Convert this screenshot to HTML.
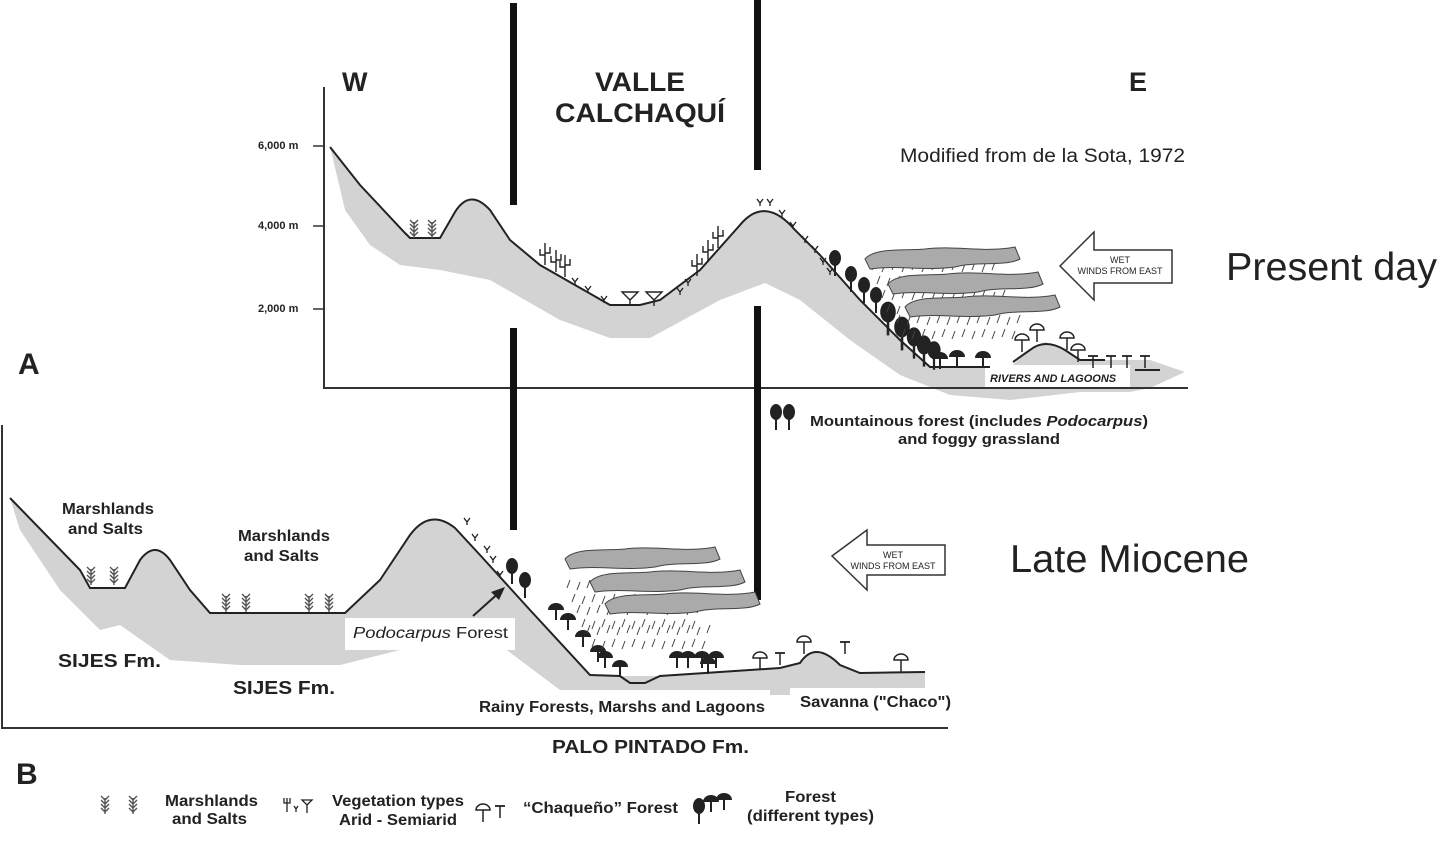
<!DOCTYPE html>
<html><head><meta charset="utf-8"><style>
html,body{margin:0;padding:0;background:#fff;}
svg{display:block;}
text{font-family:"Liberation Sans",Arial,sans-serif;fill:#222;}
.b{font-weight:bold;}
</style></head><body>
<svg width="1439" height="860" viewBox="0 0 1439 860" xmlns="http://www.w3.org/2000/svg">
<defs>
<g id="marsh"><path d="M0,0 l4,4 l4,-4 M0,4 l4,4 l4,-4 M0,8 l4,4 l4,-4 M0,12 l4,4 l4,-4 M4,2 v16" stroke="#555" stroke-width="1.4" fill="none"/></g>
<g id="tree"><ellipse cx="0" cy="0" rx="6" ry="8" fill="#222"/><line x1="0" y1="0" x2="0" y2="18" stroke="#222" stroke-width="2"/></g>
<g id="mush"><path d="M-7,0 a7,6 0 0 1 14,0 z" fill="#fff" stroke="#222" stroke-width="1.5"/><line x1="0" y1="0" x2="0" y2="12" stroke="#222" stroke-width="1.5"/></g>
<g id="tee"><line x1="-5" y1="0" x2="5" y2="0" stroke="#222" stroke-width="1.8"/><line x1="0" y1="0" x2="0" y2="12" stroke="#222" stroke-width="1.5"/></g>
<g id="dark"><path d="M-8,2 a8,7 0 0 1 16,0 z" fill="#222"/><line x1="0" y1="0" x2="0" y2="12" stroke="#222" stroke-width="2"/></g>
<g id="y"><path d="M-3,-4 L0,0 L3,-4 M0,0 v3" stroke="#222" stroke-width="1.3" fill="none"/></g>
<g id="cactus"><path d="M0,0 v-22 M-5,-16 v6 h5 M5,-18 v6 h-5" stroke="#222" stroke-width="1.4" fill="none"/></g>
<g id="cloud"><path d="M0,14 C10,2 40,6 60,4 C90,0 120,8 150,2 L155,14 C140,22 110,16 90,22 C60,26 30,20 5,24 Z" fill="#aaa" stroke="#444" stroke-width="1"/></g>
<g id="rain"><path d="M0,0 l-3,8 M10,2 l-3,8 M20,0 l-3,8 M30,2 l-3,8 M40,0 l-3,8 M50,2 l-3,8 M60,0 l-3,8 M70,2 l-3,8 M80,0 l-3,8 M90,2 l-3,8 M100,0 l-3,8 M110,2 l-3,8 M120,0 l-3,8 M5,14 l-3,8 M15,16 l-3,8 M25,14 l-3,8 M35,16 l-3,8 M45,14 l-3,8 M55,16 l-3,8 M65,14 l-3,8 M75,16 l-3,8 M85,14 l-3,8 M95,16 l-3,8 M105,14 l-3,8 M115,16 l-3,8" stroke="#444" stroke-width="1"/></g>
</defs>

<!-- ===== Top section ===== -->
<path d="M330,147 L360,185 L405,233 L410,238 L440,238 L455,212 Q470,188 490,210 L510,240 L540,265 L575,285 L610,305 L640,305 L660,300 L700,270 L740,225 Q765,195 795,230 L820,255 L860,300 L900,340 L930,367 L990,367 L1010,367 L1030,350 L1045,342 L1065,350 L1080,360 L1150,360 L1185,372 L1150,388 L1130,392 L1080,392 L1010,400 L950,395 L900,375 L850,340 L800,300 L765,283 L720,300 L650,338 L610,338 L560,320 L490,280 L440,270 L400,265 L370,245 L345,210 L338,180 Z" fill="#d3d3d3"/>
<rect x="985" y="365" width="145" height="22" fill="#fff"/>
<path d="M330,147 L360,185 L405,233 L410,238 L440,238 L455,212 Q470,188 490,210 L510,240 L540,265 L575,285 L610,305 L640,305 L660,300 L700,270 L740,225 Q765,195 795,230 L820,255 L860,300 L900,340 L930,367 L990,367" fill="none" stroke="#222" stroke-width="2"/>
<path d="M1013,362 L1030,350 Q1045,338 1065,350 L1080,360 L1105,360" fill="none" stroke="#222" stroke-width="2"/>
<path d="M1135,370 L1160,370" stroke="#222" stroke-width="2"/>

<line x1="324" y1="87" x2="324" y2="388" stroke="#333" stroke-width="2"/>
<line x1="323" y1="388" x2="1188" y2="388" stroke="#333" stroke-width="2"/>
<line x1="313" y1="146" x2="324" y2="146" stroke="#333" stroke-width="1.5"/>
<line x1="313" y1="226" x2="324" y2="226" stroke="#333" stroke-width="1.5"/>
<line x1="313" y1="309" x2="324" y2="309" stroke="#333" stroke-width="1.5"/>
<text x="258" y="149" font-size="11" class="b">6,000 m</text>
<text x="258" y="229" font-size="11" class="b">4,000 m</text>
<text x="258" y="312" font-size="11" class="b">2,000 m</text>

<rect x="510" y="3" width="7" height="202" fill="#111"/>
<rect x="510" y="328" width="7" height="202" fill="#111"/>
<rect x="754" y="0" width="7" height="170" fill="#111"/>
<rect x="754" y="306" width="7" height="294" fill="#111"/>

<text x="342" y="91" font-size="27" class="b">W</text>
<text x="595" y="91" font-size="27" class="b" textLength="90" lengthAdjust="spacingAndGlyphs">VALLE</text>
<text x="555" y="122" font-size="27" class="b" textLength="170" lengthAdjust="spacingAndGlyphs">CALCHAQUÍ</text>
<text x="1129" y="91" font-size="27" class="b">E</text>
<text x="900" y="162" font-size="19" textLength="285" lengthAdjust="spacingAndGlyphs">Modified from de la Sota, 1972</text>
<text x="1226" y="280" font-size="39" textLength="211" lengthAdjust="spacingAndGlyphs">Present day</text>
<text x="18" y="374" font-size="30" class="b">A</text>

<use href="#marsh" x="410" y="220"/><use href="#marsh" x="428" y="220"/>
<use href="#cactus" x="545" y="265"/><use href="#cactus" x="556" y="272"/><use href="#cactus" x="565" y="277"/>
<use href="#y" x="575" y="282"/><use href="#y" x="588" y="290"/><use href="#y" x="604" y="300"/>
<path d="M622,292 h16 l-8,8 z M646,292 h16 l-8,8 z M630,300 v6 M654,300 v6" stroke="#222" stroke-width="1.4" fill="#fff"/>
<use href="#y" x="680" y="292"/><use href="#y" x="688" y="283"/><use href="#cactus" x="697" y="276"/><use href="#cactus" x="708" y="262"/><use href="#cactus" x="718" y="248"/>
<use href="#y" x="760" y="203"/><use href="#y" x="770" y="203"/><use href="#y" x="782" y="214"/><use href="#y" x="793" y="226"/><use href="#y" x="805" y="240"/><use href="#y" x="815" y="250"/><use href="#y" x="823" y="262"/><use href="#y" x="830" y="272"/>
<use href="#tree" x="835" y="258"/><use href="#tree" x="851" y="274"/><use href="#tree" x="864" y="285"/><use href="#tree" x="876" y="295"/>
<g transform="translate(888,312) scale(1.3)"><use href="#tree"/></g>
<g transform="translate(902,327) scale(1.3)"><use href="#tree"/></g>
<g transform="translate(914,337) scale(1.2)"><use href="#tree"/></g>
<g transform="translate(924,345) scale(1.2)"><use href="#tree"/></g>
<g transform="translate(934,350) scale(1.1)"><use href="#tree"/></g>
<use href="#dark" x="940" y="357"/><use href="#dark" x="957" y="355"/><use href="#dark" x="983" y="356"/>
<use href="#mush" x="1022" y="340"/><use href="#mush" x="1037" y="330"/><use href="#mush" x="1067" y="338"/><use href="#mush" x="1078" y="350"/>
<use href="#tee" x="1093" y="356"/><use href="#tee" x="1111" y="356"/><use href="#tee" x="1127" y="356"/><use href="#tee" x="1145" y="356"/>
<text x="990" y="382" font-size="11" font-style="italic" class="b">RIVERS AND  LAGOONS</text>
<use href="#rain" x="875" y="262"/><use href="#rain" x="885" y="290"/><use href="#rain" x="900" y="315"/>
<use href="#cloud" x="865" y="245"/>
<use href="#cloud" x="888" y="270"/>
<use href="#cloud" x="905" y="293"/>
<path d="M1060,266 L1094,232 L1094,250 L1172,250 L1172,283 L1094,283 L1094,300 Z" fill="#fff" stroke="#333" stroke-width="1.5"/>
<text x="1120" y="263" font-size="9" text-anchor="middle">WET</text>
<text x="1120" y="274" font-size="9" text-anchor="middle">WINDS FROM EAST</text>

<use href="#tree" x="776" y="412"/><use href="#tree" x="789" y="412"/>
<text x="810" y="426" font-size="15" class="b" textLength="338" lengthAdjust="spacingAndGlyphs">Mountainous forest (includes <tspan font-style="italic">Podocarpus</tspan>)</text>
<text x="898" y="444" font-size="15" class="b" textLength="162" lengthAdjust="spacingAndGlyphs">and foggy grassland</text>

<!-- ===== Bottom section ===== -->
<line x1="2" y1="425" x2="2" y2="728" stroke="#333" stroke-width="2"/>
<line x1="1" y1="728" x2="948" y2="728" stroke="#333" stroke-width="2"/>
<path d="M10,498 L80,570 L90,588 L125,588 L140,560 Q155,540 170,560 L190,590 L210,613 L345,613 L380,580 L410,535 Q430,508 455,528 L480,555 L530,610 L590,675 L620,676 L660,676 L780,668 L800,663 Q815,640 840,665 L860,673 L925,672 L925,695 L780,695 L775,695 L600,700 L560,690 L520,660 L500,645 L420,645 L340,665 L240,665 L170,660 L120,625 L100,630 L60,590 L20,530 Z" fill="#d3d3d3"/>
<rect x="345" y="618" width="170" height="32" fill="#fff"/>
<rect x="470" y="690" width="300" height="28" fill="#fff"/>
<rect x="790" y="688" width="160" height="28" fill="#fff"/>
<path d="M10,498 L80,570 L90,588 L125,588 L140,560 Q155,540 170,560 L190,590 L210,613 L345,613 L380,580 L410,535 Q430,508 455,528 L480,555 L530,610 L590,675 L620,676 L630,683 L645,683 L660,676 L780,668 L800,663 Q815,640 840,665 L860,673 L925,672" fill="none" stroke="#222" stroke-width="2"/>

<text x="62" y="514" font-size="16" class="b" textLength="92" lengthAdjust="spacingAndGlyphs">Marshlands</text>
<text x="68" y="534" font-size="16" class="b" textLength="75" lengthAdjust="spacingAndGlyphs">and Salts</text>
<text x="238" y="541" font-size="16" class="b" textLength="92" lengthAdjust="spacingAndGlyphs">Marshlands</text>
<text x="244" y="561" font-size="16" class="b" textLength="75" lengthAdjust="spacingAndGlyphs">and Salts</text>
<text x="58" y="667" font-size="18" class="b" textLength="103" lengthAdjust="spacingAndGlyphs">SIJES Fm.</text>
<text x="233" y="694" font-size="18" class="b" textLength="102" lengthAdjust="spacingAndGlyphs">SIJES Fm.</text>
<text x="353" y="638" font-size="16" textLength="155" lengthAdjust="spacingAndGlyphs"><tspan font-style="italic">Podocarpus</tspan>  Forest</text>
<text x="479" y="712" font-size="16" class="b" textLength="286" lengthAdjust="spacingAndGlyphs">Rainy Forests, Marshs and Lagoons</text>
<text x="800" y="707" font-size="16" class="b" textLength="151" lengthAdjust="spacingAndGlyphs">Savanna ("Chaco")</text>
<text x="552" y="753" font-size="18" class="b" textLength="197" lengthAdjust="spacingAndGlyphs">PALO PINTADO Fm.</text>
<text x="1010" y="572" font-size="39" textLength="239" lengthAdjust="spacingAndGlyphs">Late Miocene</text>
<text x="16" y="784" font-size="30" class="b">B</text>

<use href="#marsh" x="87" y="567"/><use href="#marsh" x="110" y="567"/>
<use href="#marsh" x="222" y="594"/><use href="#marsh" x="242" y="594"/>
<use href="#marsh" x="305" y="594"/><use href="#marsh" x="325" y="594"/>
<use href="#y" x="467" y="522"/><use href="#y" x="475" y="538"/><use href="#y" x="487" y="550"/><use href="#y" x="493" y="560"/><use href="#y" x="500" y="575"/>
<use href="#tree" x="512" y="566"/><use href="#tree" x="525" y="580"/>
<line x1="473" y1="616" x2="502" y2="590" stroke="#222" stroke-width="2"/>
<path d="M505,587 L491,592 L499,600 Z" fill="#222"/>
<use href="#dark" x="556" y="608"/><use href="#dark" x="568" y="618"/><use href="#dark" x="583" y="635"/><use href="#dark" x="598" y="650"/><use href="#dark" x="605" y="656"/><use href="#dark" x="620" y="665"/>
<use href="#dark" x="677" y="656"/><use href="#dark" x="688" y="656"/><use href="#dark" x="702" y="656"/><use href="#dark" x="716" y="656"/><use href="#dark" x="708" y="662"/>
<use href="#mush" x="760" y="658"/><use href="#tee" x="780" y="653"/><use href="#mush" x="804" y="642"/><use href="#tee" x="845" y="642"/><use href="#mush" x="901" y="660"/>
<use href="#rain" x="570" y="580"/><use href="#rain" x="580" y="605"/><use href="#rain" x="590" y="625"/>
<use href="#cloud" x="565" y="545"/>
<use href="#cloud" x="590" y="568"/>
<use href="#cloud" x="605" y="590"/>
<path d="M832,556 L867,530 L867,545 L945,545 L945,575 L867,575 L867,590 Z" fill="#fff" stroke="#333" stroke-width="1.5"/>
<text x="893" y="558" font-size="9" text-anchor="middle">WET</text>
<text x="893" y="569" font-size="9" text-anchor="middle">WINDS FROM EAST</text>

<use href="#marsh" x="101" y="796"/><use href="#marsh" x="129" y="796"/>
<text x="165" y="806" font-size="16" class="b" textLength="93" lengthAdjust="spacingAndGlyphs">Marshlands</text>
<text x="172" y="824" font-size="16" class="b" textLength="75" lengthAdjust="spacingAndGlyphs">and Salts</text>
<path d="M287,798 v14 M284,798 v5 h3 M290,798 v5 h-3 M294,806 l2,3 l2,-3 M296,809 v3 M302,800 h10 l-5,5 z M307,805 v8" stroke="#222" stroke-width="1.3" fill="none"/>
<text x="332" y="806" font-size="16" class="b" textLength="132" lengthAdjust="spacingAndGlyphs">Vegetation types</text>
<text x="339" y="825" font-size="16" class="b" textLength="118" lengthAdjust="spacingAndGlyphs">Arid - Semiarid</text>
<use href="#mush" x="483" y="810"/><use href="#tee" x="500" y="806"/>
<text x="523" y="813" font-size="16" class="b" textLength="155" lengthAdjust="spacingAndGlyphs">“Chaqueño” Forest</text>
<use href="#tree" x="699" y="806"/><use href="#dark" x="711" y="800"/><use href="#dark" x="724" y="798"/>
<text x="785" y="802" font-size="16" class="b" textLength="51" lengthAdjust="spacingAndGlyphs">Forest</text>
<text x="747" y="821" font-size="16" class="b" textLength="127" lengthAdjust="spacingAndGlyphs">(different types)</text>
</svg>
</body></html>
